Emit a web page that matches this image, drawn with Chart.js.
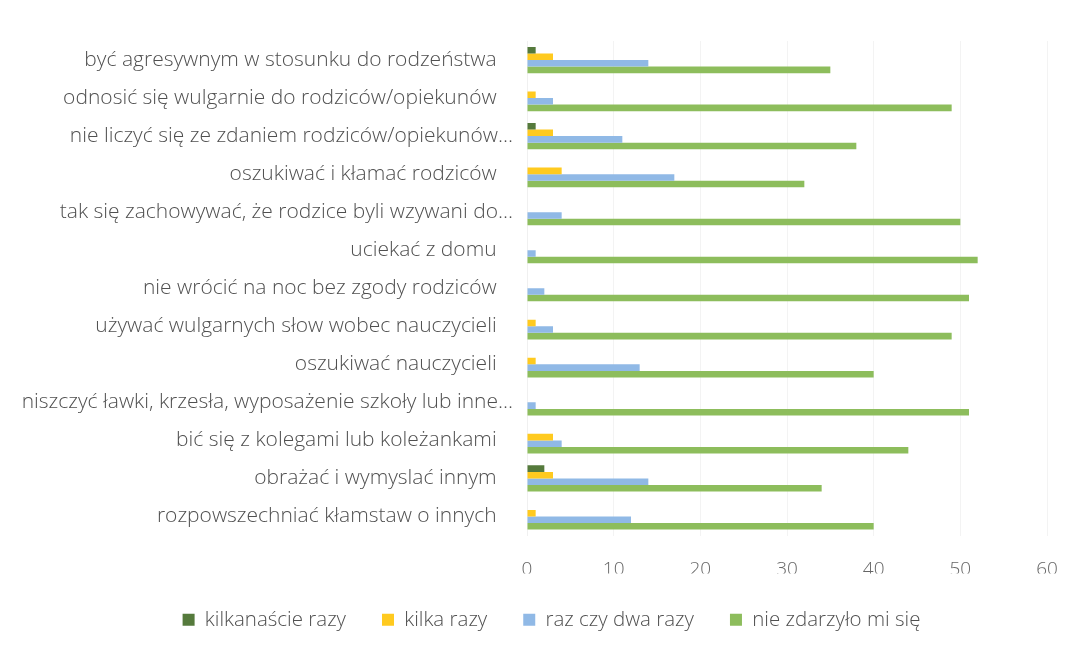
<!DOCTYPE html>
<html>
<head>
<meta charset="utf-8">
<script src="https://cdn.jsdelivr.net/npm/chart.js@4"></script>
<style>
  html, body { margin: 0; padding: 0; background: #ffffff; }
  #wrap { width: 1071px; height: 652px; position: relative; }
</style>
</head>
<body>
<div id="wrap"><canvas id="c" width="1071" height="652"></canvas></div>
<script>
const categories = [
  "być agresywnym w stosunku do rodzeństwa   ",
  "odnosić się wulgarnie do rodziców/opiekunów   ",
  "nie liczyć się ze zdaniem rodziców/opiekunów...",
  "oszukiwać i kłamać rodziców   ",
  "tak się zachowywać, że rodzice byli wzywani do...",
  "uciekać z domu   ",
  "nie wrócić na noc bez zgody rodziców   ",
  "używać wulgarnych słow wobec nauczycieli   ",
  "oszukiwać nauczycieli   ",
  "niszczyć ławki, krzesła, wyposażenie szkoły lub inne...",
  "bić się z kolegami lub koleżankami   ",
  "obrażać i wymyslać innym   ",
  "rozpowszechniać kłamstaw o innych   "
];
const seriesNames = ["kilkanaście razy", "kilka razy", "raz czy dwa razy", "nie zdarzyło mi się"];
const kilkanascie = [1, 0, 1, 0, 0, 0, 0, 0, 0, 0, 0, 2, 0];
const kilka       = [3, 1, 3, 4, 0, 0, 0, 1, 1, 0, 3, 3, 1];
const razCzyDwa   = [14, 3, 11, 17, 4, 1, 2, 3, 13, 1, 4, 14, 12];
const nieZdarzylo = [35, 49, 38, 32, 50, 52, 51, 49, 40, 51, 44, 34, 40];
const xTicks = [0, 10, 20, 30, 40, 50, 60];

const colors = ["#557a3c", "#ffca1f", "#90b9e6", "#8dbd5c"];
const values = [kilkanascie, kilka, razCzyDwa, nieZdarzylo];

const FONT = "'Open Sans', 'Noto Sans', sans-serif";

const shiftLegend = {
  id: 'shiftLegend',
  afterLayout(chart) {
    if (chart.legend) { chart.legend.left += 28; chart.legend.right += 28; }
  }
};

new Chart(document.getElementById('c'), {
  type: 'bar',
  data: {
    labels: categories,
    datasets: seriesNames.map((n, i) => ({
      label: n,
      data: values[i],
      backgroundColor: colors[i],
      borderWidth: 0,
      categoryPercentage: 0.69,
      barPercentage: 1.0
    }))
  },
  plugins: [shiftLegend],
  options: {
    indexAxis: 'y',
    responsive: false,
    animation: false,
    layout: { padding: { top: 41, left: 0, right: 24, bottom: 12 } },
    scales: {
      x: {
        min: 0, max: 60,
        afterBuildTicks: (s) => { s.ticks = xTicks.map(v => ({ value: v })); },
        grid: { color: '#f3f3f3', drawTicks: false },
        border: { display: false },
        ticks: { color: '#666666', padding: 23, font: { family: FONT, size: 19, weight: '300' } },
        afterFit: (s) => { s.height = 38; s.paddingRight = 12; s.paddingLeft = 12; }
      },
      y: {
        grid: { display: false, drawTicks: false },
        border: { display: true, color: '#f0f0f0' },
        ticks: { color: '#505050', padding: 14, font: { family: FONT, size: 21, weight: '300' }, autoSkip: false },
        afterFit: (s) => { s.width = 527; }
      }
    },
    plugins: {
      legend: {
        position: 'bottom',
        labels: {
          color: '#505050',
          boxWidth: 12, boxHeight: 12,
          padding: 36,
          font: { family: FONT, size: 20.5, weight: '300' }
        }
      },
      tooltip: { enabled: false }
    }
  }
});
</script>
</body>
</html>
